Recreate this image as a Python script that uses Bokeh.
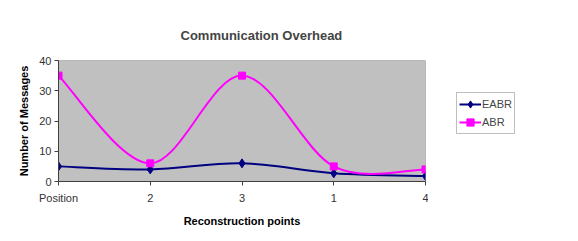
from bokeh.plotting import figure
from bokeh.layouts import row
from bokeh.models import Legend, LegendItem, FixedTicker, ColumnDataSource, Range1d
from bokeh.embed import file_html
from bokeh.resources import INLINE

categories = ["Position", "2", "3", "1", "4"]
eabr = [5, 4, 6, 2.7, 1.8]
abr = [35, 6, 35, 5, 4]
series_names = ["EABR", "ABR"]

FONT = "Liberation Sans"
NAVY = "#000080"
MAGENTA = "#FF00FF"

p = figure(width=428, height=233, output_backend="svg", toolbar_location=None,
           x_range=(0, len(categories) - 1), y_range=(0, 40),
           min_border_left=58, min_border_right=3, min_border_top=60, min_border_bottom=52)
p.background_fill_color = "white"
p.border_fill_color = "white"
p.outline_line_color = None
p.xgrid.visible = False
p.ygrid.visible = False

p.title.text = "Communication Overhead"
p.title.text_font = FONT
p.title.text_font_size = "13px"
p.title.text_font_style = "bold"
p.title.align = "left"
p.title.offset = 122
p.title.standoff = 36

# grey plot area with dark border
p.quad(left=[0], right=[len(categories) - 1], bottom=[0], top=[40],
       fill_color="#C0C0C0", line_color="#808080", line_width=1)

xs = list(range(len(categories)))


def smooth(vals):
    n = len(vals)
    ext = [vals[0]] + list(vals) + [vals[-1]]
    xe = [xs[0]] + xs + [xs[-1]]
    d = dict(x0=[], y0=[], x1=[], y1=[], cx0=[], cy0=[], cx1=[], cy1=[])
    for i in range(n - 1):
        d["x0"].append(xs[i]); d["y0"].append(vals[i])
        d["x1"].append(xs[i + 1]); d["y1"].append(vals[i + 1])
        d["cx0"].append(xs[i] + (xe[i + 2] - xe[i]) / 6)
        d["cy0"].append(vals[i] + (ext[i + 2] - ext[i]) / 6)
        d["cx1"].append(xs[i + 1] - (xe[i + 3] - xe[i + 1]) / 6)
        d["cy1"].append(vals[i + 1] - (ext[i + 3] - ext[i + 1]) / 6)
    return ColumnDataSource(d)


p.bezier(x0="x0", y0="y0", x1="x1", y1="y1", cx0="cx0", cy0="cy0", cx1="cx1", cy1="cy1",
         source=smooth(eabr), line_color=NAVY, line_width=2)
p.scatter(xs, eabr, marker="diamond", size=9, fill_color=NAVY, line_color=NAVY)
p.bezier(x0="x0", y0="y0", x1="x1", y1="y1", cx0="cx0", cy0="cy0", cx1="cx1", cy1="cy1",
         source=smooth(abr), line_color=MAGENTA, line_width=2)
p.scatter(xs, abr, marker="square", size=7, fill_color=MAGENTA, line_color=MAGENTA)

# axes
p.xaxis.ticker = FixedTicker(ticks=xs)
p.xaxis.major_label_overrides = {i: c for i, c in enumerate(categories)}
p.yaxis.ticker = FixedTicker(ticks=[0, 10, 20, 30, 40])
for ax in (p.xaxis[0], p.yaxis[0]):
    ax.axis_line_color = "#404040"
    ax.major_tick_line_color = "#404040"
    ax.minor_tick_line_color = None
    ax.major_tick_in = 0
    ax.major_tick_out = 4
    ax.major_label_text_font = FONT
    ax.major_label_text_font_size = "11px"
    ax.major_label_text_color = "#333333"
    ax.axis_label_text_font = FONT
    ax.axis_label_text_font_size = "11px"
    ax.axis_label_text_font_style = "bold"
    ax.axis_label_text_color = "black"
p.xaxis.axis_label = "Reconstruction points"
p.yaxis.axis_label = "Number of Messages"
p.xaxis.major_label_standoff = 6
p.yaxis.major_label_standoff = 3
p.xaxis.axis_label_standoff = 8
p.yaxis.axis_label_standoff = 6

# legend panel (separate figure to the right)
q = figure(width=142, height=233, output_backend="svg", toolbar_location=None,
           x_range=Range1d(10, 11), y_range=Range1d(10, 11),
           x_axis_type=None, y_axis_type=None,
           min_border_left=0, min_border_right=0, min_border_top=0, min_border_bottom=0)
q.outline_line_color = None
q.xgrid.visible = False
q.ygrid.visible = False
q.border_fill_color = "white"
q.background_fill_color = "white"
l1 = q.line(x=[0, 1], y=[0, 0], line_color=NAVY, line_width=2)
s1 = q.scatter(x=[0], y=[0], marker="diamond", size=9, fill_color=NAVY, line_color=NAVY)
l2 = q.line(x=[0, 1], y=[0, 0], line_color=MAGENTA, line_width=2)
s2 = q.scatter(x=[0], y=[0], marker="square", size=7, fill_color=MAGENTA, line_color=MAGENTA)
legend = Legend(items=[LegendItem(label=series_names[0], renderers=[l1, s1]),
                       LegendItem(label=series_names[1], renderers=[l2, s2])],
                location=(28, 47), orientation="vertical",
                label_text_font=FONT, label_text_font_size="11px",
                border_line_color="#808080", border_line_width=1,
                background_fill_color="white", background_fill_alpha=1,
                padding=2, spacing=0, glyph_width=22, glyph_height=18,
                label_height=18, label_standoff=1, margin=0)
q.add_layout(legend, "center")

layout = row(p, q, spacing=0)
open("out.html", "w").write(file_html(layout, INLINE))
